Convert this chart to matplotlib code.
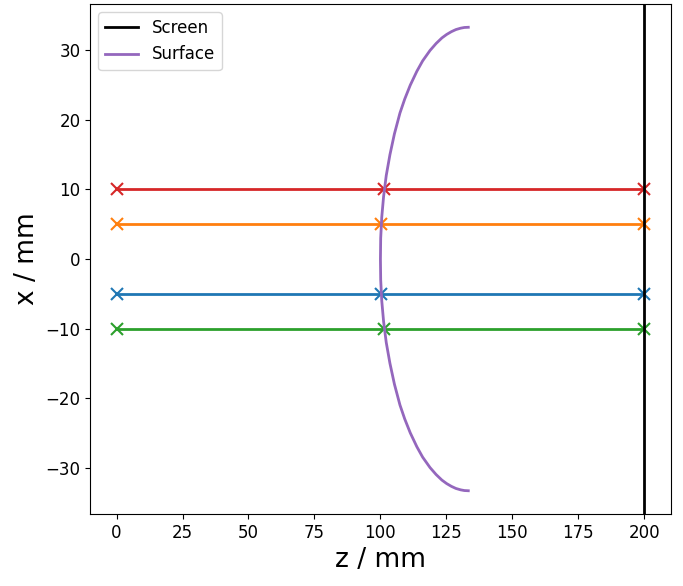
import matplotlib
matplotlib.use('Agg')
from matplotlib import pyplot as plt

# rays: start height, hit point on surface, screen position
ray_x = [-5, 5, -10, 10]
ray_z_hit = [100.4, 100.4, 101.5, 101.5]
Z_START = 0
Z_SCREEN = 200

# refracting surface outline
surf_x = [-33.33, -33.3, -33.2, -33.0, -32.7, -32.3, -31.8, -31.0, -30.0, -28.5,
          -27.0, -25.0, -23.0, -21.0, -18.0, -15.0, -12.0, -9.0, -6.0, -3.0, 0.0,
          3.0, 6.0, 9.0, 12.0, 15.0, 18.0, 21.0, 23.0, 25.0, 27.0,
          28.5, 30.0, 31.0, 31.8, 32.3, 32.7, 33.0, 33.2, 33.3, 33.33]
surf_z = [133.3, 131.8, 130.4, 128.6, 126.9, 125.1, 123.3, 121.1, 118.8, 116.0,
          113.8, 111.3, 109.2, 107.4, 105.3, 103.6, 102.2, 101.2, 100.5, 100.1, 100.0,
          100.1, 100.5, 101.2, 102.2, 103.6, 105.3, 107.4, 109.2, 111.3, 113.8,
          116.0, 118.8, 121.1, 123.3, 125.1, 126.9, 128.6, 130.4, 131.8, 133.3]


def main():
    fig = plt.figure(figsize=(6.83, 5.86), dpi=100)
    ax = fig.add_axes([0.132, 0.123, 0.85, 0.870])

    for x, zh in zip(ray_x, ray_z_hit):
        ax.plot([Z_START, zh, Z_SCREEN], [x, x, x], marker='x',
                lw=2, ms=8.5, mew=1.5)

    ax.axvline(Z_SCREEN, color='k', lw=2, label='Screen')
    ax.plot(surf_z, surf_x, color='tab:purple', lw=2, label='Surface')

    ax.set_xticks([0, 25, 50, 75, 100, 125, 150, 175, 200])
    ax.set_yticks([-30, -20, -10, 0, 10, 20, 30])
    ax.tick_params(labelsize=12)
    ax.set_xlabel('z / mm', fontsize=19)
    ax.set_ylabel('x / mm', fontsize=19)
    ax.legend(loc='upper left', fontsize=12)

    fig.savefig('out.png', dpi=100)


if __name__ == '__main__':
    main()
